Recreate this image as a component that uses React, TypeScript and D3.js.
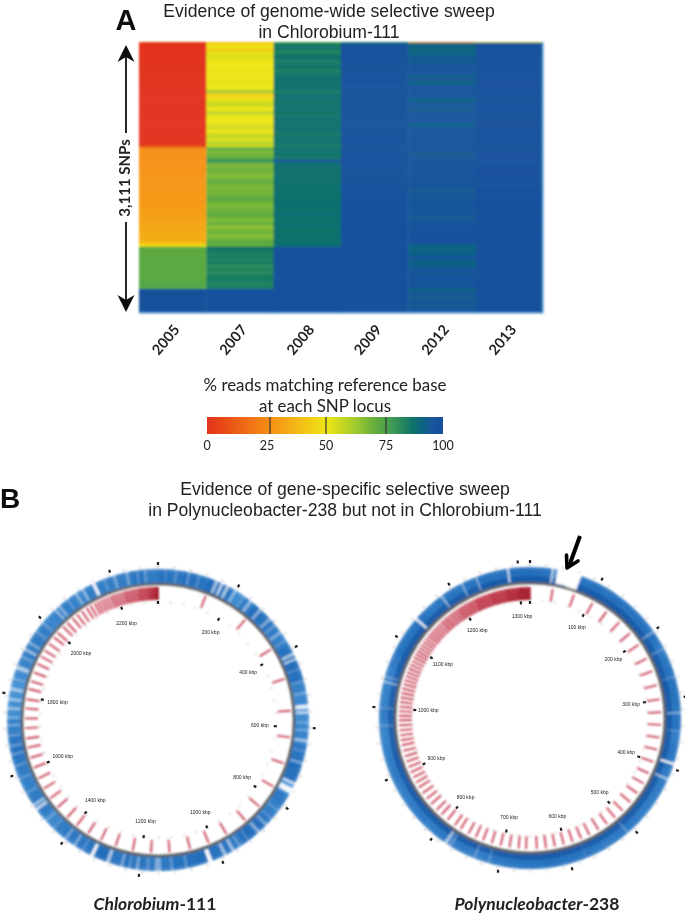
import React from 'react';
import * as d3 from 'd3';

const years = ['2005', '2007', '2008', '2009', '2012', '2013'];
const y2005 = [0,0,0,0,0,0,0,0,0,0,0,0,0,0,0,0,0,0,0,0,0,0,0,0,0,0,0,0,0,0,0,0,0,0,4,
  24,25,25,25,26,26,26,26,26,27,27,27,27,27,28,28,28,28,28,29,29,29,30,30,31,31,32,32,33,33,34,36,47,
  72,72,72,72,72,72,72,72,72,72,72,73,73,73,
  98,98,98,98,98,98,98,98];
const y2007 = [46,50,42,52,53,52,51,50,50,51,50,50,50,52,50,51,62,44,47,52,57,53,50,58,52,50,50,52,55,50,54,57,53,59,56,
  72,67,69,71,80,69,67,70,68,66,69,71,68,67,69,68,70,72,68,67,69,69,72,68,67,70,64,69,68,66,69,72,71,
  87,85,84,84,83,85,80,84,81,84,85,84,83,84,
  98,97,98,98,97,98,98,98];
const y2008 = [85,86,85,83,87,87,84,86,87,84,86,87,88,87,87,88,85,87,88,87,87,88,88,87,86,88,88,87,88,88,86,87,88,87,86,
  87,88,87,86,95,88,88,87,88,87,88,88,87,88,88,88,87,88,88,88,87,88,88,88,87,88,88,87,88,88,87,88,88,
  96,98,98,97,98,97,98,96,98,97,96,98,97,98,
  98,99,98,98,97,98,98,98];
const y2009 = [98,97,98,98,97,98,98,97,97,98,98,97,98,98,97,97,98,97,98,98,97,98,98,97,98,98,97,96,98,98,97,98,99,97,98,
  97,98,97,98,98,97,97,98,96,97,98,97,98,98,97,97,98,98,97,98,98,97,98,98,97,98,98,99,98,97,98,98,97,
  98,99,98,98,97,98,99,98,98,97,98,98,99,98,
  97,98,98,97,98,98,97,98];
const y2012 = [91,91,91,91,92,97,92,96,95,96,
  96,92,95,91,96,96,96,96,95,91,
  96,95,93,96,96,96,96,92,95,96,
  96,97,96,96,97,96,96,93,96,97,
  96,97,96,97,96,96,97,96,96,93,
  95,96,94,96,96,96,95,95,93,96,
  96,96,97,97,98,98,98,92,91,91,
  92,97,92,92,92,96,94,97,96,95,
  96,97,90,95,93,93,96,93,96,97];
const y2013 = [98,98,97,98,98,97,98,98,97,98,98,98,97,98,98,98,97,98,98,97,98,98,99,98,98,97,98,98,99,98,98,99,98,98,97,
  98,99,98,98,97,98,99,98,99,98,98,97,98,98,99,98,98,97,98,99,98,98,98,99,98,98,97,98,98,99,98,98,98,
  97,97,98,98,97,98,98,97,98,98,97,98,98,98,
  97,97,98,98,97,98,98,98];
const heatColumns = [y2005, y2007, y2008, y2009, y2012, y2013];
const topEdgeValues = [5, 35, 70, 80, 28, 55];

const colorDomain = [0, 25, 50, 62, 70, 78, 87, 95, 100];
const colorRange = ['#e2321a', '#f68f16', '#f0e512', '#a3cb2e', '#66ae3c', '#3e9a56', '#0c7269', '#14569a', '#134d9e'];
const legendTicks = [0, 25, 50, 75, 100];

const leftRedAngles = [21,41,58,72,86,97.5,109,120,130.5,139,149,157.6,166,175,183,191,198.6,205.4,211.6,217.6,223,229,234,239,244,249,253.5,258,262,266.5,270.7,275,279,283.5,287,291,295,298.5,301.5,305,308.5,311,314.5,317,320,322.5,325,327.5,329.5,331.5,333,334.5,336,337.5,339,340.2,341.4,342.6,343.8,345,346,347,348,349,350,351,351.8,352.6,353.4,354.2,355,355.7,356.4,357,357.6,358.2,358.8,359.3,359.7,360];
const rightRedAngles = [10,19.6,28.5,35.7,43,49.7,56,63,69,75.5,81.8,87.5,93,98.6,104,109.6,115,120,125,130,135,139.5,144,148.5,153,157,161,165,169,173,177,181.7,185,189,193,197,201,204.5,208,212,215,219,222.5,225.5,229,232,235,238,240.5,243,245.5,248,250.5,253,255.5,258,260.2,262.4,264.6,266.8,269,271,273,275,277,279,281,283,285,286.8,288.6,290.4,292.2,294,295.8,297.6,299.2,300.8,302.4,304,305.6,307.2,308.8,310.2,311.6,313,314.4,315.8,317.2,318.4,319.6,320.8,322,323.2,324.4,325.6,326.8,327.8,328.8,329.8,330.8,331.8,332.8,333.8,334.8,335.6,336.4,337.2,338,338.8,339.6,340.4,341.2,342,342.7,343.4,344.1,344.8,345.5,346.2,346.9,347.6,348.3,349,349.6,350.2,350.8,351.4,352,352.6,353.2,353.8,354.4,355,355.5,356,356.5,357,357.5,358,358.5,359,359.5,360];

const leftShades = [.8,.78,.82,.8,.86,.8,.62,.72,.84,.8,.72,.7,.8,.84,.82,.7,.66,.62,.66,.7,.78,.84,.82,.5,.76,.7,.76,.82,.84,.74,.78,.8,.84,.82,.8,.76,.74,.78,.8,.78,.84,.78,.76,.76,.72,.64,.74,.74,.7,.72,.76,.8,.78,.7,.62,.58,.56,.62,.68,.72,.74,.72,.66,.7,.72,.66,.72,.72,.72,.74,.78,.74];
const rightShades = [.82,.8,.4,0,.8,.82,.8,.82,.8,.8,.8,.8,.76,.78,.8,.82,.8,.78,.8,.72,.78,.78,.74,.74,.74,.72,.74,.76,.76,.74,.76,.78,.8,.8,.82,.8,.8,.78,.76,.72,.72,.76,.74,.76,.72,.76,.74,.72,.72,.74,.72,.7,.68,.7,.74,.7,.7,.7,.74,.8,.8,.8,.8,.76,.78,.8,.78,.8,.82,.8,.84,.84];
const leftStripes = [[3,.8,.15],[7,1,.2],[12,.8,.3],[16,.8,.2],[23,1.4,.55],[25.2,1,.7],[27.6,1.2,.6],[31,1,.4],[35,.8,.2],[38,1.2,.45],[43,1.2,.45],[48,1.2,.4],[51,.8,.25],[54.4,1,.4],[58,.8,.2],[64,1.2,.6],[66,1,.6],[70,.8,.2],[75,.8,.25],[79.5,1,.3],[84.8,1.6,.85],[87,1.2,.6],[91,.8,.3],[94,.8,.3],[98,1.2,.5],[102,.8,.2],[106.7,1,.4],[115,1,.7],[118,2.2,.95],[127,.8,.2],[131,.8,.2],[134,1,.35],[138,1.2,.45],[143,.8,.2],[147,.8,.3],[150,1.2,.55],[153.5,1.2,.55],[159.6,1.6,.98],[169,.8,.3],[174.6,.8,.3],[179.4,.8,.55],[180.6,.8,.55],[184,.8,.25],[188,1,.4],[191,.8,.25],[194,1,.4],[199.5,1.3,.6],[206,1.3,.9],[210,.8,.2],[213.7,1,.4],[218,1,.35],[224,.8,.2],[228,.8,.25],[233.7,1.3,.65],[235.5,1.2,.55],[241,.8,.2],[247,.8,.25],[252,.8,.25],[256.7,.8,.3],[260,.8,.3],[264,.8,.3],[268,.8,.35],[271,.8,.35],[274.5,1,.5],[278,1,.5],[282,1.2,.55],[286,.8,.3],[290.5,1.6,.6],[295,.8,.3],[298,1,.55],[301,1,.4],[306,.8,.25],[310,.8,.25],[317,1,.45],[319,1,.4],[323,.8,.25],[327,1,.4],[330,1,.45],[334.7,1.3,.9],[339,.8,.2],[343,1,.35],[348,1,.35],[352,.8,.2],[355,.8,.3]];
const rightStripes = [[8.8,1,.65],[13.4,5.4,1],[16.8,1,.6],[18.2,.8,.7],[55,.6,.45],[62.6,.5,.35],[74,.5,.25],[88,.6,.5],[95,.5,.25],[107.7,.9,.95],[114,.9,.55],[139.5,.6,.3],[158,.4,.15],[196,.5,.3],[201.7,.5,.35],[212,.8,.3],[214,1.4,.55],[267,.4,.35],[274,.4,.35],[284,.7,.5],[286,.5,.4],[311,.9,.9],[324,.6,.6],[333,.5,.55],[339,.5,.55],[351.5,.9,.7]];

const leftMarkerAngles = [0,31,62,93,124.4,155.5,187,218,249,280,311,342];
const rightMarkerAngles = [0,27.4,54.8,82.2,109.6,137,164.4,191.8,219.2,246.6,274,301.4,328.8,355.5];
const leftLabels = ['200 kbp','400 kbp','600 kbp','800 kbp','1000 kbp','1200 kbp','1400 kbp','1600 kbp','1800 kbp','2000 kbp','2200 kbp'];
const rightLabels = ['100 kbp','200 kbp','300 kbp','400 kbp','500 kbp','600 kbp','700 kbp','800 kbp','900 kbp','1000 kbp','1100 kbp','1200 kbp','1300 kbp'];

const HEAT = { x: 139, y: 42, w: 404, h: 271 };
const sans = '"Liberation Sans", Arial, sans-serif';
const lato = 'Lato, "Open Sans", sans-serif';
const rad = (a: number) => (a * Math.PI) / 180;
const heatColor = d3.scaleLinear<string>().domain(colorDomain).range(colorRange);
const ringColor = d3.scaleLinear<string>().domain([0, .5, 1]).range(['#ffffff', '#4f9cdb', '#0e58ac']);

function Heatmap() {
  const x = d3.scaleBand<string>().domain(years).range([HEAT.x, HEAT.x + HEAT.w]);
  const y = d3.scaleBand<number>().domain(d3.range(y2005.length)).range([HEAT.y, HEAT.y + HEAT.h]);
  return (
    <g filter="url(#blurHeat)">
      {heatColumns.map((col, c) => col.map((v, r) => (
        <rect key={`${c}-${r}`} x={x(years[c])} y={y(r)} width={x.bandwidth() + .4} height={y.bandwidth() + .4} fill={heatColor(v)} />
      )))}
      {topEdgeValues.map((v, c) => (
        <rect key={c} x={x(years[c])} y={HEAT.y} width={x.bandwidth()} height={1.2} fill={heatColor(v)} opacity={.75} />
      ))}
      <rect x={HEAT.x + HEAT.w - 1} y={HEAT.y} width={1} height={HEAT.h} fill="#4aa0dc" />
      <rect x={HEAT.x} y={HEAT.y + HEAT.h - 1} width={HEAT.w} height={1} fill="#4aa0dc" />
    </g>
  );
}

function Legend() {
  const x = d3.scaleLinear().domain(legendTicks).range([207, 270, 326, 386, 443]);
  const top = 417, h = 17;
  return (
    <g filter="url(#blurText)">
      <defs>
        <linearGradient id="legendGrad" x1="207" x2="443" y1="0" y2="0" gradientUnits="userSpaceOnUse">
          {colorDomain.map(d => <stop key={d} offset={(x(d) - 207) / 236} stopColor={heatColor(d)} />)}
        </linearGradient>
      </defs>
      <rect x={207} y={top} width={236} height={h} fill="url(#legendGrad)" />
      {legendTicks.slice(1, 4).map(t => <line key={t} x1={x(t)} x2={x(t)} y1={top} y2={top + h} stroke="#333" strokeWidth={1.2} />)}
      {legendTicks.map(t => (
        <text key={t} x={x(t) - (t === 25 ? 3 : 0)} y={450} textAnchor="middle" fontFamily={lato} fontSize={12.5} fill="#222">{t}</text>
      ))}
      <text x={325} y={391} textAnchor="middle" fontFamily={lato} fontSize={16.9} fill="#222">% reads matching reference base</text>
      <text x={325} y={412} textAnchor="middle" fontFamily={lato} fontSize={16.9} fill="#222">at each SNP locus</text>
    </g>
  );
}

function Genome({ cx, cy, ringR, redIn, redOut, shades, stripes, redAngles, markers, labels, inner }: any) {
  const arc = d3.arc();
  const n = shades.length;
  const step = 360 / n;
  const R0 = ringR + 1, R1 = 151;
  const mk = (a: number, r: number) => d3.pointRadial(rad(a), r);
  const sector = (a0: number, a1: number, r0: number, r1: number) =>
    arc({ innerRadius: r0, outerRadius: r1, startAngle: rad(a0), endAngle: rad(a1) }) as string;
  const minor = d3.range(0, 360, 6.2);
  return (
    <g transform={`translate(${cx},${cy})`}>
      <g filter="url(#blurRing)">
        {shades.map((s: number, i: number) => (
          <path key={i} d={sector(i * step - .1, (i + 1) * step + .1, R0, R1)} fill={ringColor(s)} />
        ))}
        {inner && shades.map((s: number, i: number) => s > .3 && (
          <path key={`b${i}`} d={sector(i * step - .1, (i + 1) * step + .1, R0, R0 + 6)} fill="#124f9c" opacity={.6} />
        ))}
        <path d={sector(0, 360, R1 - 3, R1)} fill="#fff" opacity={.08} />
        {stripes.map((st: number[], i: number) => (
          <path key={i} d={sector(st[0] - st[1] / 2, st[0] + st[1] / 2, R0 + 1, R1 + .5)} fill="#fff" opacity={st[2]} />
        ))}
        {minor.map((a: number) => {
          const p = mk(a, 153.5);
          return <circle key={a} cx={p[0]} cy={p[1]} r={.8} fill="#999" />;
        })}
        {minor.map((a: number) => {
          const p = mk(a, 118);
          return <circle key={`i${a}`} cx={p[0]} cy={p[1]} r={.7} fill="#999" />;
        })}
        <g style={{ isolation: 'isolate' }}>
          {redAngles.map((a: number, i: number) => {
            const p0 = mk(a, redIn), p1 = mk(a, redOut);
            return <line key={i} x1={p0[0]} y1={p0[1]} x2={p1[0]} y2={p1[1]} stroke="#c9475a" strokeWidth={1.9} style={{ mixBlendMode: 'multiply' }} />;
          })}
        </g>
        <circle r={ringR} fill="none" stroke="#5e5e5e" strokeWidth={2.6} />
      </g>
      <g filter="url(#blurText)">
        {markers.map((a: number, i: number) => {
          const p0 = mk(a, 155), p1 = mk(a, 158);
          const q0 = mk(a, redIn - 4), q1 = mk(a, redIn - 1);
          return (
            <g key={i}>
              <line x1={p0[0]} y1={p0[1]} x2={p1[0]} y2={p1[1]} stroke="#222" strokeWidth={2.2} />
              <line x1={q0[0]} y1={q0[1]} x2={q1[0]} y2={q1[1]} stroke="#222" strokeWidth={2.2} />
            </g>
          );
        })}
        {labels.map((t: string, i: number) => {
          const p = mk(markers[i + 1], 102);
          return <text key={t} x={p[0]} y={p[1] + 1.5} textAnchor="middle" fontFamily={sans} fontSize={5} fill="#222">{t}</text>;
        })}
      </g>
    </g>
  );
}

export default function App() {
  const yearX = d3.scaleBand<string>().domain(years).range([HEAT.x, HEAT.x + HEAT.w]);
  return (
    <svg width={685} height={917} viewBox="0 0 685 917" style={{ position: 'absolute', left: 0, top: 0, background: '#fff' }}>
      <defs>
        <filter id="blurHeat" x="-5%" y="-5%" width="110%" height="110%"><feGaussianBlur stdDeviation="0.8" /></filter>
        <filter id="blurRing" x="-5%" y="-5%" width="110%" height="110%"><feGaussianBlur stdDeviation="0.9" /></filter>
        <filter id="blurText" x="-5%" y="-20%" width="110%" height="140%"><feGaussianBlur stdDeviation="0.5" /></filter>
      </defs>

      <Heatmap />

      <g filter="url(#blurText)">
        <text x={126} y={29.5} textAnchor="middle" fontFamily={sans} fontWeight="bold" fontSize={29} fill="#111">A</text>
        <text x={329} y={17} textAnchor="middle" fontFamily={sans} fontSize={17.6} fill="#222">Evidence of genome-wide selective sweep</text>
        <text x={329} y={38} textAnchor="middle" fontFamily={sans} fontSize={17.6} fill="#222">in Chlorobium-111</text>

        <line x1={126} x2={126} y1={52} y2={133} stroke="#111" strokeWidth={1.8} />
        <line x1={126} x2={126} y1={222} y2={304} stroke="#111" strokeWidth={1.8} />
        <path d="M126,45 L117.5,62 L126,57 L134.5,62 Z" fill="#111" />
        <path d="M126,312 L117.5,295 L126,300 L134.5,295 Z" fill="#111" />
        <text transform="translate(130,178) rotate(-90)" textAnchor="middle" fontFamily={lato} fontWeight="bold" fontSize={15} fill="#222">3,111 SNPs</text>

        {years.map(yr => (
          <text key={yr} transform={`translate(${(yearX(yr) as number) + yearX.bandwidth() / 2 - 3},${343}) rotate(-50)`} textAnchor="middle"
            fontFamily={lato} fontWeight="bold" fontSize={14.5} fill="#222">{yr}</text>
        ))}

        <text x={0} y={508} fontFamily={sans} fontWeight="bold" fontSize={28} fill="#111">B</text>
        <text x={345} y={495} textAnchor="middle" fontFamily={sans} fontSize={17.6} fill="#222">Evidence of gene-specific selective sweep</text>
        <text x={345} y={516} textAnchor="middle" fontFamily={sans} fontSize={17.6} fill="#222">in Polynucleobacter-238 but not in Chlorobium-111</text>

        <text x={155} y={910} textAnchor="middle" fontFamily={lato} fontWeight="bold" fontSize={17.5} fill="#222"><tspan fontStyle="italic">Chlorobium</tspan>-111</text>
        <text x={537} y={910} textAnchor="middle" fontFamily={lato} fontWeight="bold" fontSize={17.5} fill="#222"><tspan fontStyle="italic">Polynucleobacter</tspan>-238</text>

        <line x1={580} y1={536} x2={569.5} y2={565} stroke="#000" strokeWidth={4} />
        <path d="M567,568 L566.5,555 M567,568 L578,561" stroke="#000" strokeWidth={3.6} fill="none" strokeLinecap="round" />
      </g>

      <Legend />

      <Genome cx={158} cy={720} ringR={136} redIn={120} redOut={133} shades={leftShades} stripes={leftStripes} redAngles={leftRedAngles} markers={leftMarkerAngles} labels={leftLabels} inner={false} />
      <Genome cx={530} cy={718} ringR={135} redIn={118} redOut={131} shades={rightShades} stripes={rightStripes} redAngles={rightRedAngles} markers={rightMarkerAngles} labels={rightLabels} inner={true} />
    </svg>
  );
}
